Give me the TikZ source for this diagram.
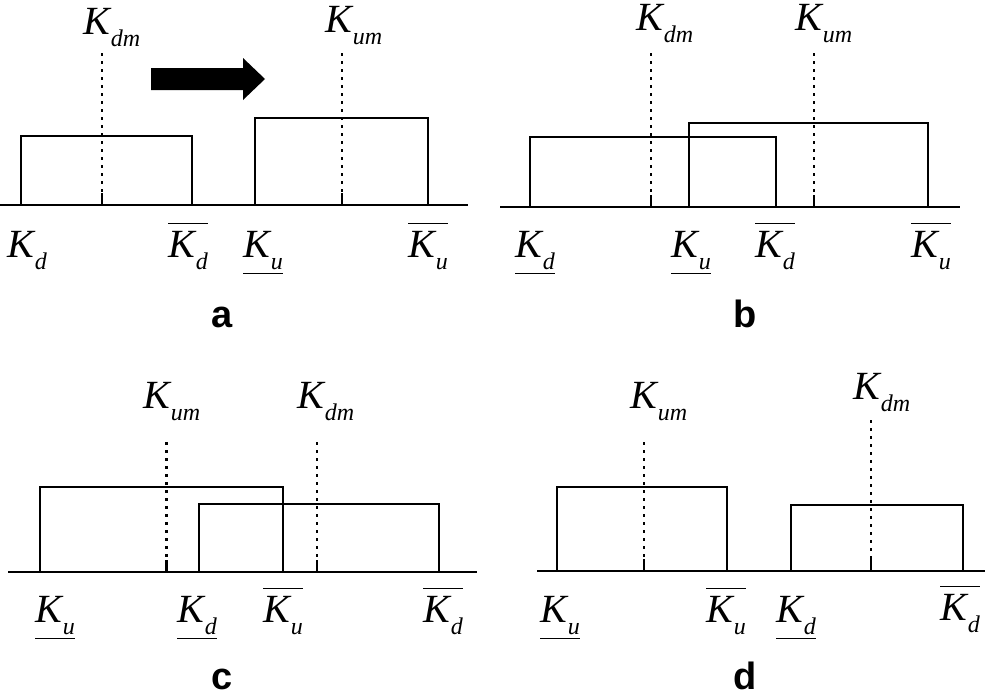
\documentclass[tikz,border=0pt]{standalone}
\usepackage{fontspec}
\setmainfont{Liberation Serif}
\newfontfamily\lettfont{Liberation Sans}
\newcommand{\Klab}[1]{{\fontsize{40}{40}\selectfont\itshape K}\kern1pt\raisebox{-12pt}{\fontsize{24}{24}\selectfont\itshape #1}}
\newcommand{\obar}[1]{\draw[barline] ([yshift=7pt]#1.north west) -- ([yshift=7pt]#1.north east);}
\newcommand{\ubar}[1]{\draw[barline] ([yshift=-4pt]#1.south west) -- ([yshift=-4pt]#1.south east);}
\begin{document}
\begin{tikzpicture}[x=1pt,y=-1pt,
  axisline/.style={line width=2pt},
  boxline/.style={line width=2pt},
  meanline/.style={line width=2.2pt,dash pattern=on 3pt off 5pt},
  tickline/.style={line width=2pt},
  barline/.style={line width=1.5pt},
  lbl/.style={inner sep=0pt,anchor=base west},
  panel/.style={inner sep=0pt,anchor=base,font=\lettfont\bfseries\fontsize{38}{38}\selectfont}]
\useasboundingbox (0,0) rectangle (986,699);

% ---------- panel a ----------
\draw[axisline] (0,205) -- (468,205);
\draw[boxline] (21,205) -- (21,136) -- (192,136) -- (192,205);
\draw[boxline] (255,205) -- (255,118) -- (428,118) -- (428,205);
\draw[meanline] (102,53) -- (102,193);
\draw[tickline] (102,193) -- (102,205);
\draw[meanline] (342,53) -- (342,193);
\draw[tickline] (342,193) -- (342,205);
\fill (151,68) -- (243,68) -- (243,58) -- (265,79) -- (243,100) -- (243,90) -- (151,90) -- cycle;
\node[lbl] (a1) at (83,34) {\Klab{dm}};
\node[lbl] (a2) at (325,32) {\Klab{um}};
\node[lbl] (a3) at (7,257) {\Klab{d}};
\node[lbl] (a4) at (168,257) {\Klab{d}};
\node[lbl] (a5) at (243,257) {\Klab{u}};
\node[lbl] (a6) at (408,257) {\Klab{u}};
\obar{a4} \ubar{a5} \obar{a6}
\node[panel] (pa) at (222,327) {a};

% ---------- panel b ----------
\draw[axisline] (500,207) -- (960,207);
\draw[boxline] (530,207) -- (530,137) -- (776,137) -- (776,207);
\draw[boxline] (689,207) -- (689,123) -- (928,123) -- (928,207);
\draw[meanline] (651,53) -- (651,195);
\draw[tickline] (651,195) -- (651,207);
\draw[meanline] (814,53) -- (814,195);
\draw[tickline] (814,195) -- (814,207);
\node[lbl] (b1) at (636,30) {\Klab{dm}};
\node[lbl] (b2) at (795,30) {\Klab{um}};
\node[lbl] (b3) at (515,257) {\Klab{d}};
\node[lbl] (b4) at (671,257) {\Klab{u}};
\node[lbl] (b5) at (755,257) {\Klab{d}};
\node[lbl] (b6) at (911,257) {\Klab{u}};
\ubar{b3} \ubar{b4} \obar{b5} \obar{b6}
\node[panel] (pb) at (745,327) {b};

% ---------- panel c ----------
\draw[axisline] (8,572) -- (477,572);
\draw[boxline] (40,572) -- (40,487) -- (283,487) -- (283,572);
\draw[boxline] (199,572) -- (199,504) -- (439,504) -- (439,572);
\draw[meanline,line width=3pt] (166,442) -- (166,560);
\draw[tickline,line width=3pt] (166,560) -- (166,572);
\draw[meanline] (317,442) -- (317,560);
\draw[tickline] (317,560) -- (317,572);
\node[lbl] (c1) at (143,408) {\Klab{um}};
\node[lbl] (c2) at (297,408) {\Klab{dm}};
\node[lbl] (c3) at (35,622) {\Klab{u}};
\node[lbl] (c4) at (177,622) {\Klab{d}};
\node[lbl] (c5) at (263,622) {\Klab{u}};
\node[lbl] (c6) at (423,622) {\Klab{d}};
\ubar{c3} \ubar{c4} \obar{c5} \obar{c6}
\node[panel] (pc) at (222,689) {c};

% ---------- panel d ----------
\draw[axisline] (537,571) -- (985,571);
\draw[boxline] (557,571) -- (557,487) -- (727,487) -- (727,571);
\draw[boxline] (791,571) -- (791,505) -- (963,505) -- (963,571);
\draw[meanline] (644,442) -- (644,559);
\draw[tickline] (644,559) -- (644,571);
\draw[meanline] (871,420) -- (871,559);
\draw[tickline] (871,559) -- (871,571);
\node[lbl] (d1) at (630,408) {\Klab{um}};
\node[lbl] (d2) at (853,399) {\Klab{dm}};
\node[lbl] (d3) at (540,622) {\Klab{u}};
\node[lbl] (d4) at (706,622) {\Klab{u}};
\node[lbl] (d5) at (776,622) {\Klab{d}};
\node[lbl] (d6) at (940,620) {\Klab{d}};
\ubar{d3} \obar{d4} \ubar{d5} \obar{d6}
\node[panel] (pd) at (745,689) {d};
\end{tikzpicture}
\end{document}
